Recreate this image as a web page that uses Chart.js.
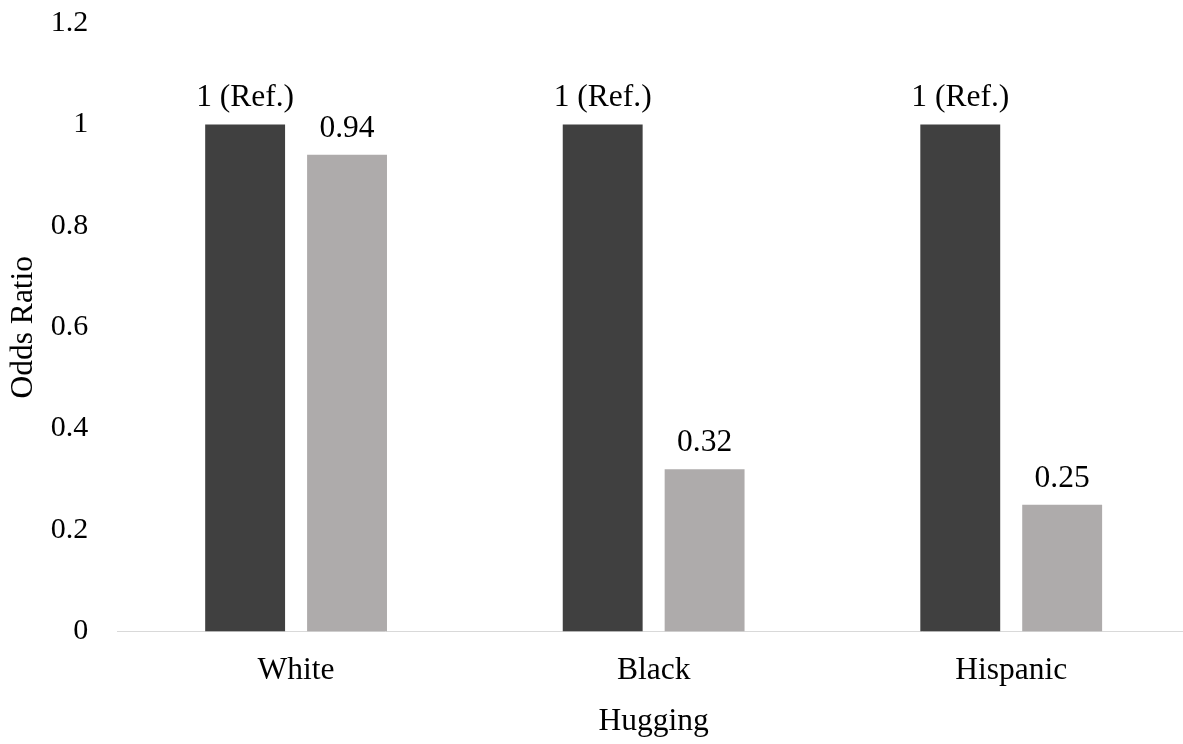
<!DOCTYPE html>
<html>
<head>
<meta charset="utf-8">
<script src="https://cdn.jsdelivr.net/npm/chart.js@4"></script>
<style>
  html, body { margin: 0; padding: 0; background: #fff; overflow: hidden; }
  #wrap { width: 1192px; height: 744px; }
</style>
</head>
<body>
<div id="wrap"><canvas id="chart" width="1192" height="744"></canvas></div>
<script>
const categories = ['White', 'Black', 'Hispanic'];
const refValues = [1, 1, 1];
const refLabels = ['1 (Ref.)', '1 (Ref.)', '1 (Ref.)'];
const groupValues = [0.94, 0.32, 0.25];
const groupLabels = ['0.94', '0.32', '0.25'];
const yTicks = [0, 0.2, 0.4, 0.6, 0.8, 1, 1.2];

const FONT = '"Liberation Serif", "Times New Roman", serif';

// draws the value text above each bar
const barLabels = {
  id: 'barLabels',
  afterDatasetsDraw(chart) {
    const ctx = chart.ctx;
    ctx.save();
    ctx.font = '31.5px ' + FONT;
    ctx.fillStyle = '#000';
    ctx.textAlign = 'center';
    ctx.textBaseline = 'alphabetic';
    chart.data.datasets.forEach((ds, i) => {
      chart.getDatasetMeta(i).data.forEach((bar, j) => {
        ctx.fillText(ds.labels[j], bar.x, bar.y - 18);
      });
    });
    ctx.restore();
  }
};

new Chart(document.getElementById('chart'), {
  type: 'bar',
  data: {
    labels: categories,
    datasets: [
      { label: 'Reference', data: refValues, labels: refLabels, backgroundColor: '#404040' },
      { label: 'Comparison', data: groupValues, labels: groupLabels, backgroundColor: '#aeabab' }
    ]
  },
  options: {
    responsive: false,
    animation: false,
    categoryPercentage: 0.57,
    barPercentage: 0.784,
    layout: { padding: { top: 0, left: 5, right: 2, bottom: 3 } },
    plugins: { legend: { display: false }, tooltip: { enabled: false } },
    scales: {
      x: {
        grid: { display: false },
        border: { display: true, color: '#d9d9d9', width: 1 },
        ticks: { color: '#000', font: { family: FONT, size: 31.5 }, padding: 12 },
        title: { display: true, text: 'Hugging', color: '#000', font: { family: FONT, size: 31.5 }, padding: { top: 2, bottom: 0 } }
      },
      y: {
        min: 0, max: 1.2,
        afterBuildTicks: axis => { axis.ticks = yTicks.map(v => ({ value: v })); },
        grid: { display: false, tickLength: 24 },
        border: { display: false },
        ticks: { color: '#000', font: { family: FONT, size: 30 }, padding: 5, callback: v => String(v) },
        title: { display: true, text: 'Odds Ratio', color: '#000', font: { family: FONT, size: 31.5 }, padding: { top: 0, bottom: 3 } }
      }
    }
  },
  plugins: [barLabels]
});
</script>
</body>
</html>
